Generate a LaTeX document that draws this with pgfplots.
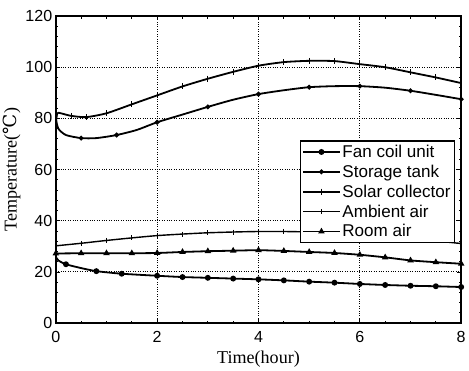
\documentclass[border=0pt]{standalone}
\usepackage{fontspec}
\setmainfont{Liberation Serif}
\newfontfamily\arial{Liberation Sans}
\newfontfamily\dejavu{DejaVu Serif}
\usepackage{pgfplots}
\pgfplotsset{compat=1.18}
\begin{document}
\begin{tikzpicture}
\begin{axis}[
  scale only axis, width=404pt, height=306pt,
  xmin=0, xmax=8, ymin=0, ymax=120,
  xtick={0,2,...,8}, ytick={0,20,...,120},
  minor x tick num=3, minor y tick num=4,
  tick align=inside,
  major tick length=4pt, minor tick length=2.5pt,
  xmajorgrids, ymajorgrids,
  grid style={black, dotted, line width=0.9pt},
  axis line style={line width=1.4pt},
  tick style={black, line width=0.8pt},
  ticklabel style={font=\arial\fontsize{16}{18}\selectfont},
  xticklabel style={yshift=-5pt},
  /pgf/number format/assume math mode=true,
  xlabel={Time(hour)}, ylabel={Temperature({\dejavu ℃})},
  label style={font=\fontsize{18}{20}\selectfont},
  xlabel style={yshift=-1pt}, ylabel style={yshift=-2pt},
  legend style={at={(rel axis cs:0.985,0.595)}, anchor=north east,
    font=\arial\fontsize{17}{17}\selectfont, draw=black, line width=1.2pt,
    row sep=2pt, inner sep=2pt},
  legend cell align=left,
  legend image code/.code={\draw[#1, mark repeat=2, mark phase=2] plot coordinates {(0pt,0pt) (18pt,0pt) (36pt,0pt)};},
  every axis plot/.append style={black, line width=1.8pt, smooth, tension=0.4},
]
\addlegendimage{black, line width=1.8pt, mark=*, mark size=2pt, mark options={fill=black}}
\addlegendentry{Fan coil unit}
\addlegendimage{black, line width=1.8pt, mark=*, mark size=1.4pt, mark options={fill=black}}
\addlegendentry{Storage tank}
\addlegendimage{black, line width=1.8pt, mark=|, mark size=3pt, mark options={line width=1pt}}
\addlegendentry{Solar collector}
\addlegendimage{black, line width=1.3pt, mark=|, mark size=2.5pt, mark options={line width=0.8pt}}
\addlegendentry{Ambient air}
\addlegendimage{black, line width=1.8pt, mark=triangle*, mark size=2pt, mark options={fill=black}}
\addlegendentry{Room air}
\addplot[forget plot, mark=*, mark size=2pt, mark options={fill=black}, mark indices={3,5,6,7,8,9,10,11,12,13,14,15,16,17,18,19}] coordinates {
(0,26)(0.05,24.5)(0.2,23)(0.5,21.5)(0.8,20.3)(1.3,19.3)(2,18.5)(2.5,18)(3,17.7)(3.5,17.4)(4,17.1)(4.5,16.7)(5,16.2)(5.5,15.8)(6,15.3)(6.5,14.9)(7,14.6)(7.5,14.4)(8,14.1)};
\addplot[forget plot, mark=*, mark size=1.4pt, mark options={fill=black}, mark indices={4,6,8,10,12,14,16,18,20}] coordinates {
(0,80)(0.05,76)(0.2,73.5)(0.5,72.3)(0.8,72.3)(1.2,73.5)(1.6,75.5)(2,78.5)(2.5,81.5)(3,84.5)(3.5,87.3)(4,89.5)(4.5,91)(5,92.2)(5.5,92.6)(6,92.6)(6.5,92)(7,90.8)(7.5,89.2)(8,87.5)};
\addplot[forget plot, mark=|, mark size=3pt, mark options={line width=1pt}, mark indices={4,5,6,7,8,9,10,11,12,13,14,15,16,17,18,19,20}] coordinates {
(0,78)(0.03,82)(0.1,82)(0.3,81)(0.6,80.5)(1,82)(1.5,85.5)(2,89)(2.5,92.5)(3,95.5)(3.5,98.2)(4,100.6)(4.5,102)(5,102.5)(5.5,102.4)(6,101.2)(6.5,100)(7,98)(7.5,96)(8,93.8)};
\addplot[forget plot, line width=1.4pt, mark=|, mark size=2.5pt, mark options={line width=0.8pt}] coordinates {
(0,30.2)(0.5,31.2)(1,32.3)(1.5,33.3)(2,34.2)(2.5,34.8)(3,35.3)(3.5,35.6)(4,35.8)(4.5,35.8)(5,35.6)(5.5,35.1)(6,34.5)(6.5,33.8)(7,33)(7.5,32.1)(8,31.1)};
\addplot[forget plot, mark=triangle*, mark size=2pt, mark options={fill=black}] coordinates {
(0,27.2)(0.5,27.3)(1,27.3)(1.5,27.3)(2,27.4)(2.5,27.8)(3,28.1)(3.5,28.3)(4,28.5)(4.5,28.2)(5,27.8)(5.5,27.4)(6,26.7)(6.5,25.7)(7,24.5)(7.5,23.8)(8,23.2)};
\end{axis}
\path ([yshift=16pt]current axis.north west);
\end{tikzpicture}
\end{document}
